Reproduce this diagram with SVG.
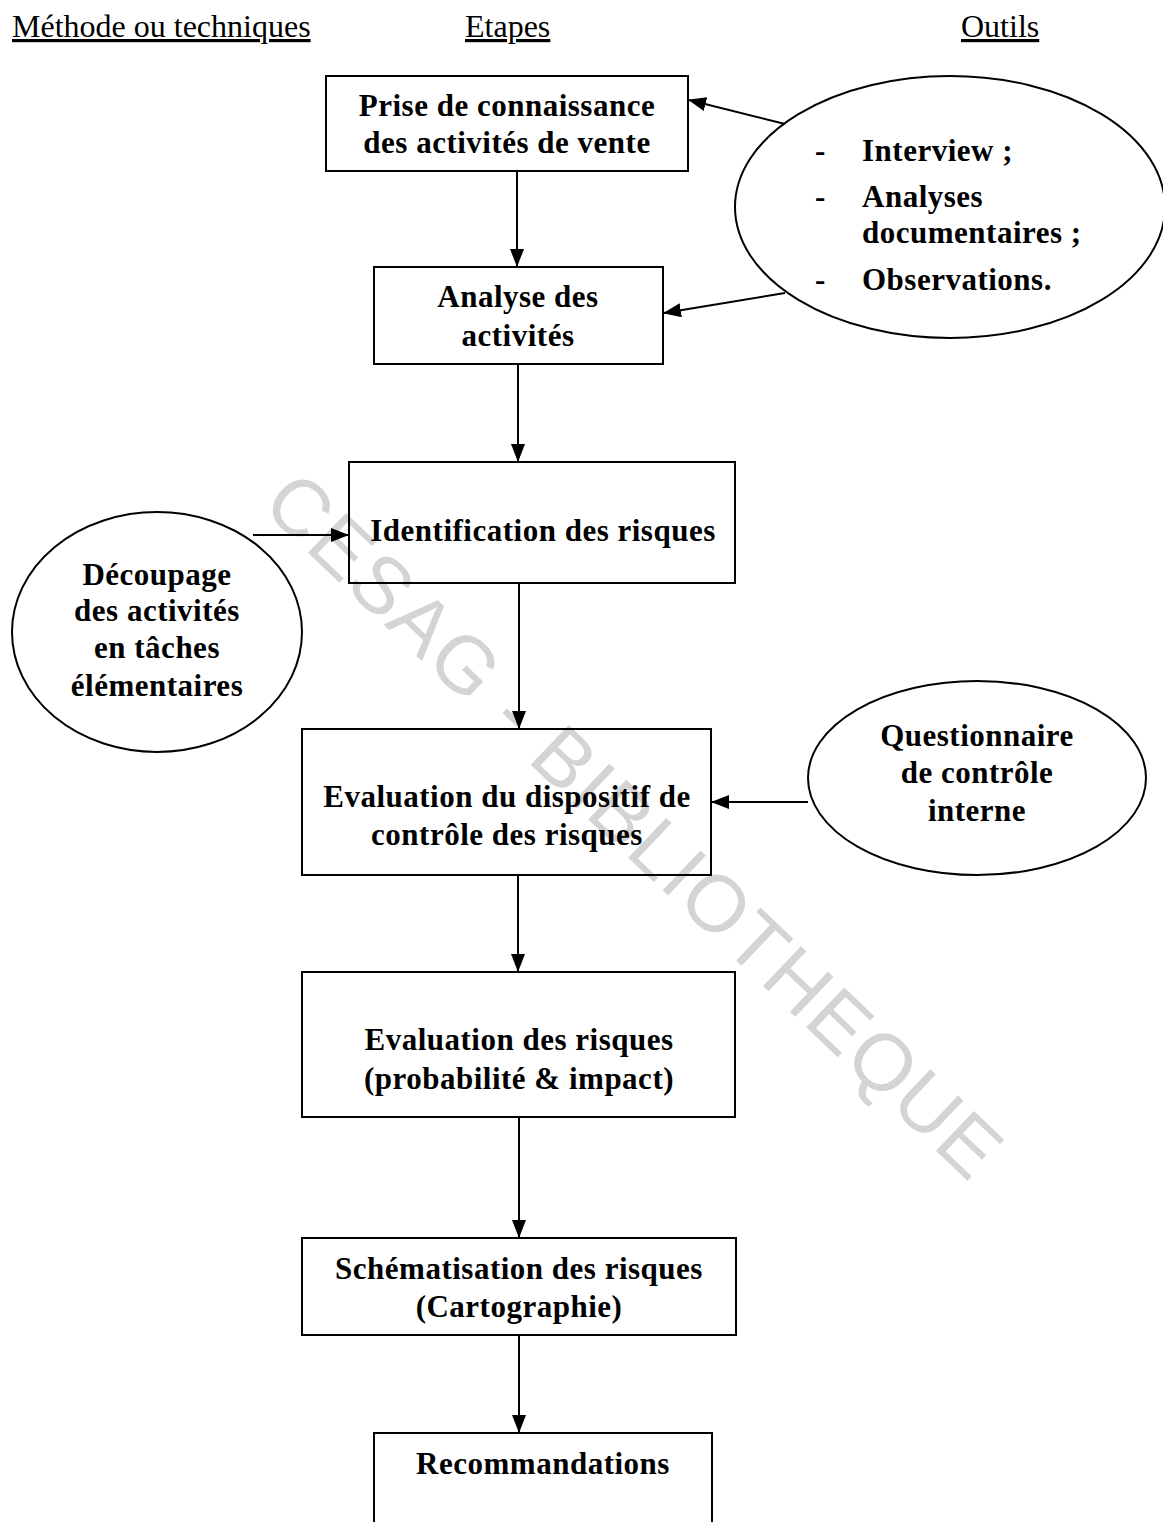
<svg xmlns="http://www.w3.org/2000/svg" width="1163" height="1522" viewBox="0 0 1163 1522">
<style>
.hdr{font-family:"Liberation Serif",serif;font-size:32px;fill:#000;text-decoration:underline}
.t{font-family:"Liberation Serif",serif;font-size:31px;font-weight:bold;fill:#000;text-anchor:middle;letter-spacing:0.5px}
.tl{font-family:"Liberation Serif",serif;font-size:31px;font-weight:bold;fill:#000;letter-spacing:0.5px}
.box{fill:none;stroke:#000;stroke-width:2}
.ell{fill:none;stroke:#000;stroke-width:2}
.con{stroke:#000;stroke-width:2;fill:none;marker-end:url(#ah)}
.wm{font-family:"Liberation Sans",sans-serif;font-size:80px;fill:#d4d4d4;letter-spacing:2px}
</style>
<defs>
<marker id="ah" markerWidth="18" markerHeight="14" refX="17" refY="7" orient="auto" markerUnits="userSpaceOnUse">
<path d="M0,0 L18,7 L0,14 Z" fill="#000"/>
</marker>
</defs>
<rect width="1163" height="1522" fill="#fff"/>
<g id="watermark">
<text class="wm" x="260" y="507" transform="rotate(43.6 260 507)">CESAG - BIBLIOTHEQUE</text>
</g>
<g id="headers">
<text class="hdr" x="12" y="37">Méthode ou techniques </text>
<text class="hdr" x="465" y="37">Etapes</text>
<text class="hdr" x="961" y="37">Outils</text>
</g>
<g id="n-outils1">
<ellipse class="ell" cx="950" cy="207" rx="215" ry="131"/>
<text class="tl" x="815" y="161">-</text>
<text class="tl" x="862" y="161">Interview ;</text>
<text class="tl" x="815" y="207">-</text>
<text class="tl" x="862" y="207">Analyses</text>
<text class="tl" x="862" y="243">documentaires ;</text>
<text class="tl" x="815" y="290">-</text>
<text class="tl" x="862" y="290">Observations.</text>
</g>
<g id="n-decoupage">
<ellipse class="ell" cx="157" cy="632" rx="145" ry="120"/>
<text class="t" x="157" y="585">Découpage</text>
<text class="t" x="157" y="621">des activités</text>
<text class="t" x="157" y="658">en tâches</text>
<text class="t" x="157" y="696">élémentaires</text>
</g>
<g id="n-questionnaire">
<ellipse class="ell" cx="977" cy="778" rx="169" ry="97"/>
<text class="t" x="977" y="746">Questionnaire</text>
<text class="t" x="977" y="783">de contrôle</text>
<text class="t" x="977" y="821">interne</text>
</g>
<g id="n-prise">
<rect class="box" x="326" y="76" width="362" height="95"/>
<text class="t" x="507" y="116">Prise de connaissance</text>
<text class="t" x="507" y="153">des activités de vente</text>
</g>
<g id="n-analyse">
<rect class="box" x="374" y="267" width="289" height="97"/>
<text class="t" x="518" y="307">Analyse des</text>
<text class="t" x="518" y="346">activités</text>
</g>
<g id="n-identification">
<rect class="box" x="349" y="462" width="386" height="121"/>
<text class="t" x="543" y="541">Identification des risques</text>
</g>
<g id="n-evaldispositif">
<rect class="box" x="302" y="729" width="409" height="146"/>
<text class="t" x="507" y="807">Evaluation du dispositif de</text>
<text class="t" x="507" y="845">contrôle des risques</text>
</g>
<g id="n-evalrisques">
<rect class="box" x="302" y="972" width="433" height="145"/>
<text class="t" x="519" y="1050">Evaluation des risques</text>
<text class="t" x="519" y="1089">(probabilité &amp; impact)</text>
</g>
<g id="n-schema">
<rect class="box" x="302" y="1238" width="434" height="97"/>
<text class="t" x="519" y="1279">Schématisation des risques</text>
<text class="t" x="519" y="1317">(Cartographie)</text>
</g>
<g id="n-recommandations">
<path class="box" d="M374,1524 L374,1433 L712,1433 L712,1524"/>
<text class="t" x="543" y="1474">Recommandations</text>
</g>
<g id="connectors">
<line class="con" x1="785" y1="124" x2="689" y2="100"/>
<line class="con" x1="785" y1="293" x2="664" y2="313"/>
<line class="con" x1="517" y1="171" x2="517" y2="266"/>
<line class="con" x1="518" y1="364" x2="518" y2="461"/>
<line class="con" x1="253" y1="535" x2="348" y2="535"/>
<line class="con" x1="519" y1="583" x2="519" y2="728"/>
<line class="con" x1="808" y1="802" x2="712" y2="802"/>
<line class="con" x1="518" y1="875" x2="518" y2="971"/>
<line class="con" x1="519" y1="1117" x2="519" y2="1237"/>
<line class="con" x1="519" y1="1335" x2="519" y2="1432"/>
</g>
</svg>
